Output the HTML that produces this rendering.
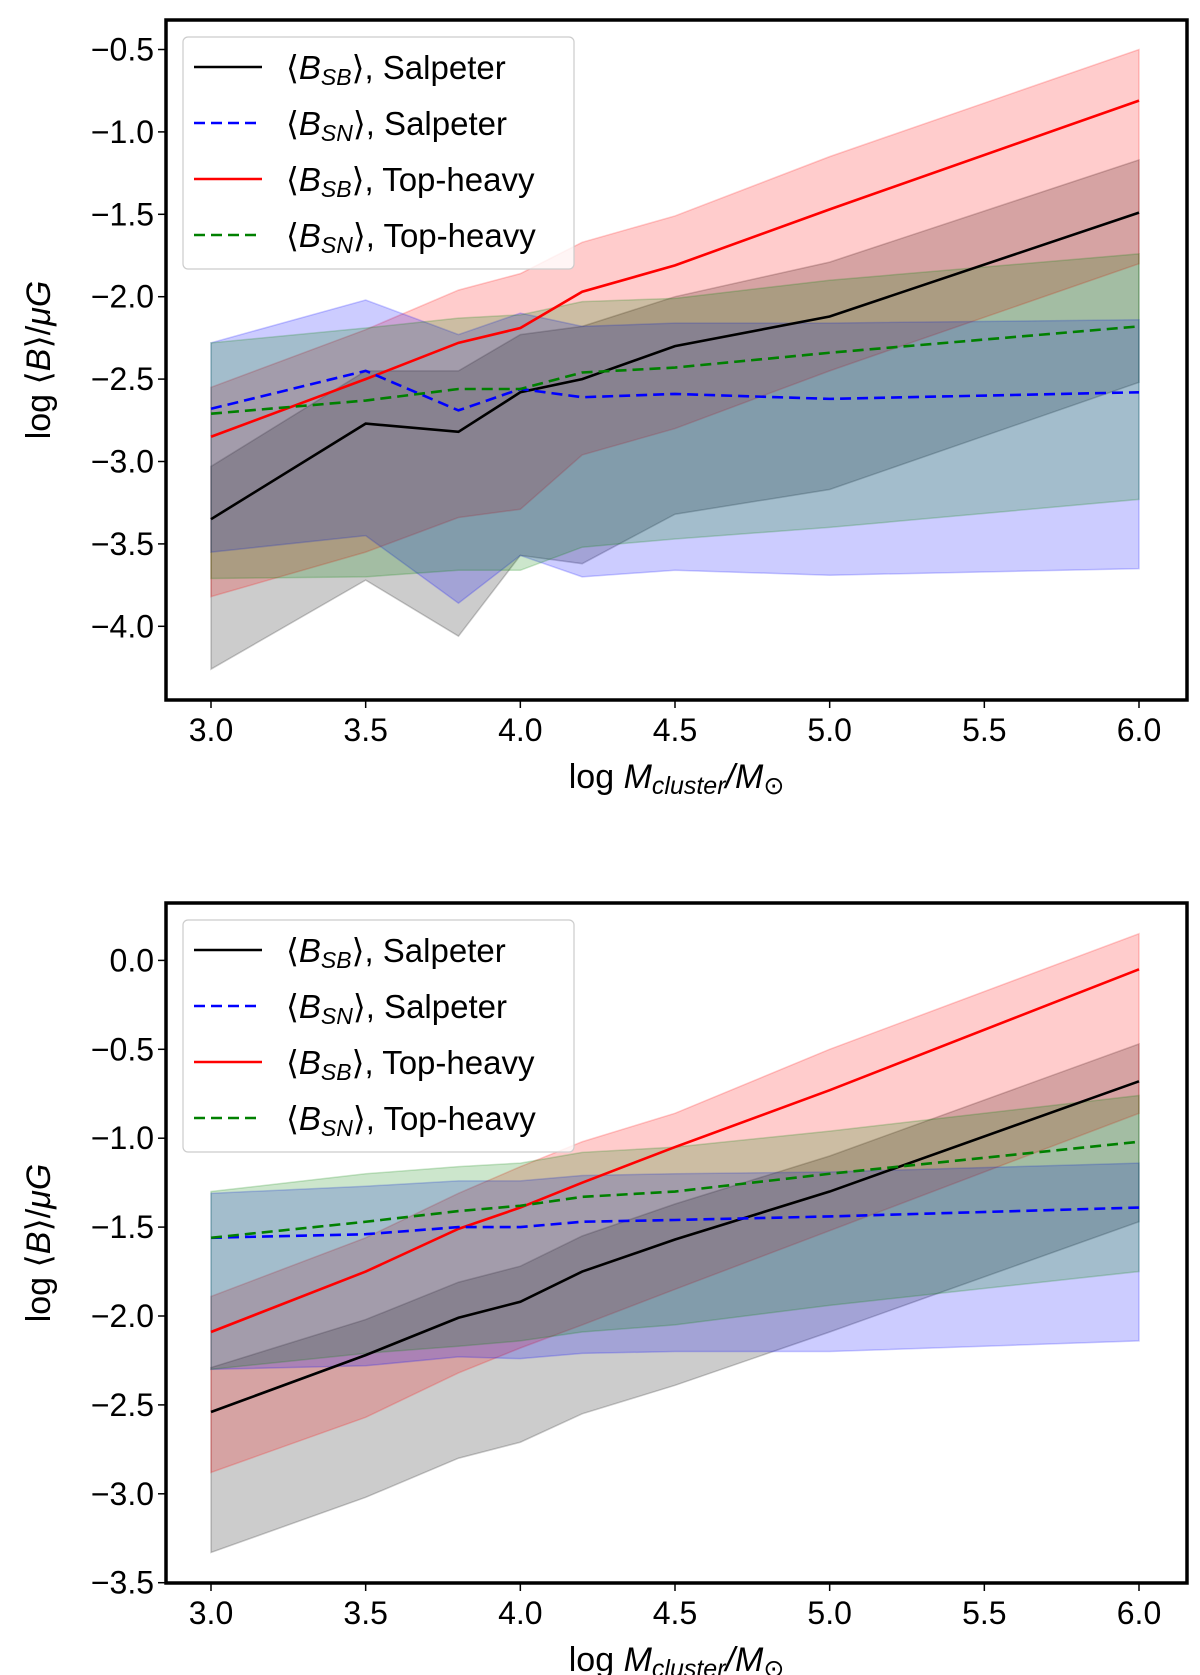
<!DOCTYPE html>
<html><head><meta charset="utf-8"><style>
body{margin:0;background:#fff;}
svg{display:block;font-family:"Liberation Sans","DejaVu Sans",sans-serif;}
</style></head><body>
<svg id="fig" width="1200" height="1675" viewBox="0 0 1200 1675"></svg>
<script>
const xCats=[3.0,3.5,3.8,4.0,4.2,4.5,5.0,6.0];
const xTicks=[3.0,3.5,4.0,4.5,5.0,5.5,6.0];
// top panel
const tSbSal=[-3.35,-2.77,-2.82,-2.58,-2.50,-2.30,-2.12,-1.49];
const tSbSalHi=[-3.03,-2.45,-2.45,-2.23,-2.18,-2.00,-1.79,-1.17];
const tSbSalLo=[-4.26,-3.72,-4.06,-3.57,-3.62,-3.32,-3.17,-2.52];
const tSbTop=[-2.85,-2.50,-2.28,-2.19,-1.97,-1.81,-1.47,-0.81];
const tSbTopHi=[-2.55,-2.20,-1.96,-1.86,-1.67,-1.51,-1.15,-0.50];
const tSbTopLo=[-3.82,-3.55,-3.34,-3.29,-2.96,-2.80,-2.45,-1.80];
const tSnSal=[-2.68,-2.45,-2.69,-2.56,-2.61,-2.59,-2.62,-2.58];
const tSnSalHi=[-2.28,-2.02,-2.23,-2.10,-2.18,-2.16,-2.16,-2.14];
const tSnSalLo=[-3.55,-3.45,-3.86,-3.57,-3.70,-3.66,-3.69,-3.65];
const tSnTop=[-2.71,-2.63,-2.56,-2.56,-2.46,-2.43,-2.34,-2.18];
const tSnTopHi=[-2.28,-2.19,-2.13,-2.11,-2.03,-2.01,-1.90,-1.74];
const tSnTopLo=[-3.71,-3.70,-3.66,-3.66,-3.52,-3.47,-3.40,-3.23];
const tYTicks=[-0.5,-1.0,-1.5,-2.0,-2.5,-3.0,-3.5,-4.0];
// bottom panel
const bSbSal=[-2.54,-2.22,-2.01,-1.92,-1.75,-1.57,-1.30,-0.68];
const bSbSalHi=[-2.29,-2.02,-1.81,-1.72,-1.55,-1.37,-1.10,-0.47];
const bSbSalLo=[-3.33,-3.02,-2.80,-2.71,-2.55,-2.39,-2.09,-1.47];
const bSbTop=[-2.09,-1.75,-1.51,-1.39,-1.25,-1.05,-0.73,-0.05];
const bSbTopHi=[-1.89,-1.56,-1.31,-1.16,-1.02,-0.86,-0.50,0.15];
const bSbTopLo=[-2.88,-2.57,-2.32,-2.18,-2.05,-1.85,-1.52,-0.86];
const bSnSal=[-1.56,-1.54,-1.50,-1.50,-1.47,-1.46,-1.44,-1.39];
const bSnSalHi=[-1.31,-1.27,-1.24,-1.24,-1.21,-1.20,-1.19,-1.14];
const bSnSalLo=[-2.30,-2.28,-2.23,-2.24,-2.21,-2.20,-2.20,-2.14];
const bSnTop=[-1.56,-1.47,-1.41,-1.38,-1.33,-1.30,-1.20,-1.02];
const bSnTopHi=[-1.30,-1.20,-1.16,-1.14,-1.08,-1.05,-0.96,-0.76];
const bSnTopLo=[-2.30,-2.21,-2.17,-2.14,-2.09,-2.05,-1.94,-1.75];
const bYTicks=[0.0,-0.5,-1.0,-1.5,-2.0,-2.5,-3.0,-3.5];

const NS='http://www.w3.org/2000/svg';
const svg=document.getElementById('fig');
function mk(tag,attrs,parent){const e=document.createElementNS(NS,tag);for(const k in attrs)e.setAttribute(k,attrs[k]);(parent||svg).appendChild(e);return e;}
const fmt=v=>(v<0?'\u2212':'')+Math.abs(v).toFixed(1);

function panel(p){
  const L=166,R=1187,T=p.top,B=p.bottom;
  const xs=v=>211+(v-3)*(1139-211)/3;
  const ys=v=>p.y0px+(p.y0-v)*p.pxPer;
  const g=mk('g',{});
  
  
  const series=[
    {nm:'sb-salpeter',c:'#000000',m:p.d[0],hi:p.d[1],lo:p.d[2],dash:null,lab:'SB',t:'Salpeter'},
    {nm:'sn-salpeter',c:'#0000ff',m:p.d[6],hi:p.d[7],lo:p.d[8],dash:'11 6',lab:'SN',t:'Salpeter'},
    {nm:'sb-top-heavy',c:'#ff0000',m:p.d[3],hi:p.d[4],lo:p.d[5],dash:null,lab:'SB',t:'Top-heavy'},
    {nm:'sn-top-heavy',c:'#008000',m:p.d[9],hi:p.d[10],lo:p.d[11],dash:'11 6',lab:'SN',t:'Top-heavy'}
  ];
  const fillOrder=[0,2,1,3];
  fillOrder.forEach(i=>{const s=series[i];
    let d='M'+xCats.map((x,j)=>xs(x)+','+ys(s.hi[j])).join(' L');
    d+=' L'+xCats.map((x,j)=>[x,j]).reverse().map(([x,j])=>xs(x)+','+ys(s.lo[j])).join(' L')+' Z';
    const e=mk('path',{d:d,fill:s.c,'fill-opacity':0.2,stroke:s.c,'stroke-opacity':0.2,'stroke-width':1.5},g);
    
    
  });
  [0,2,1,3].forEach(i=>{const s=series[i];
    const a={d:'M'+xCats.map((x,j)=>xs(x)+','+ys(s.m[j])).join(' L'),fill:'none',stroke:s.c,'stroke-width':2.6};
    if(s.dash)a['stroke-dasharray']=s.dash;
    const e=mk('path',a,g);
    
    
  });
  const fr=mk('rect',{x:L,y:T,width:R-L,height:B-T,fill:'none',stroke:'#000','stroke-width':3.5},g);
  
  
  xTicks.forEach(v=>{
    mk('line',{x1:xs(v),x2:xs(v),y1:B,y2:B+8,stroke:'#000','stroke-width':1.5},g);
    const t=mk('text',{x:xs(v),y:B+41,'font-size':32,'text-anchor':'middle'},g);
    t.textContent=v.toFixed(1);
    
    
  });
  p.yt.forEach(v=>{
    mk('line',{x1:L-8,x2:L,y1:ys(v),y2:ys(v),stroke:'#000','stroke-width':1.5},g);
    const t=mk('text',{x:L-12,y:ys(v)+11,'font-size':32,'text-anchor':'end'},g);
    t.textContent=fmt(v);
    
    
  });
  const xl=mk('text',{x:(L+R)/2,y:B+88,'font-size':34,'text-anchor':'middle'},g);
  xl.innerHTML='log <tspan font-style="italic">M</tspan><tspan font-style="italic" font-size="25" dy="6">cluster</tspan><tspan dy="-6" font-style="italic">/M</tspan><tspan font-size="25" dy="6">\u2299</tspan>';
  
  
  const cy=(T+B)/2;
  const yl=mk('text',{x:0,y:0,'font-size':34,'text-anchor':'middle',transform:'translate(50,'+cy+') rotate(-90)'},g);
  yl.innerHTML='log \u27E8<tspan font-style="italic">B</tspan>\u27E9/<tspan font-style="italic">\u03BCG</tspan>';
  
  
  const lg=mk('g',{},g);
  
  
  mk('rect',{x:183,y:T+17,width:391,height:232,rx:5,fill:'#fff','fill-opacity':0.8,stroke:'#ccc','stroke-width':1.2},lg);
  series.forEach((s,i)=>{
    const yy=T+47+i*56;
    const ea=mk('g',{},lg);
    
    
    const la={x1:194,x2:262,y1:yy,y2:yy,stroke:s.c,'stroke-width':2.6};
    if(s.dash)la['stroke-dasharray']=s.dash;
    mk('line',la,ea);
    const t=mk('text',{x:286,y:yy+12,'font-size':33},ea);
    t.innerHTML='\u27E8<tspan font-style="italic">B</tspan><tspan font-style="italic" font-size="23" dy="6">'+s.lab+'</tspan><tspan dy="-6">\u27E9, '+s.t+'</tspan>';
  });
}
panel({name:'top-panel',top:20,bottom:700,y0:-0.5,y0px:49.5,pxPer:164.8,yt:tYTicks,
  d:[tSbSal,tSbSalHi,tSbSalLo,tSbTop,tSbTopHi,tSbTopLo,tSnSal,tSnSalHi,tSnSalLo,tSnTop,tSnTopHi,tSnTopLo]});
panel({name:'bottom-panel',top:903,bottom:1583,y0:0.0,y0px:960.4,pxPer:177.8,yt:bYTicks,
  d:[bSbSal,bSbSalHi,bSbSalLo,bSbTop,bSbTopHi,bSbTopLo,bSnSal,bSnSalHi,bSnSalLo,bSnTop,bSnTopHi,bSnTopLo]});
</script>
</body></html>
